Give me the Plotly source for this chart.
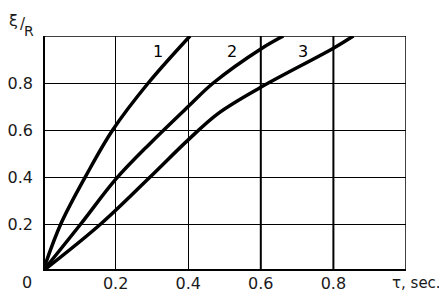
import plotly.graph_objects as go

# Data
tau1 = [0.0, 0.049, 0.12, 0.192, 0.29, 0.405]
xi1 = [0.0, 0.2, 0.41, 0.6, 0.8, 1.0]

tau2 = [0.0, 0.104, 0.2, 0.295, 0.4, 0.469, 0.6, 0.662]
xi2 = [0.0, 0.2, 0.39, 0.543, 0.70, 0.8, 0.945, 1.0]

tau3 = [0.0, 0.159, 0.295, 0.4, 0.483, 0.6, 0.8, 0.855]
xi3 = [0.0, 0.2, 0.4, 0.558, 0.671, 0.782, 0.948, 1.0]

x_ticks = [0.2, 0.4, 0.6, 0.8]
y_ticks = [0.2, 0.4, 0.6, 0.8]
curve_labels = ["1", "2", "3"]
label_x = [0.317, 0.52, 0.715]
label_y = [0.932, 0.932, 0.932]

FONT = "DejaVu Sans"
TXT = "#1a1a1a"
fig = go.Figure()
for t, v in [(tau1, xi1), (tau2, xi2), (tau3, xi3)]:
    fig.add_trace(go.Scatter(x=t, y=v, mode="lines",
                             line=dict(color="black", width=3.5, shape="spline", smoothing=1.0),
                             showlegend=False, hoverinfo="skip"))

for lx, ly, lt in zip(label_x, label_y, curve_labels):
    fig.add_annotation(x=lx, y=ly, text=lt, showarrow=False, xanchor="center", yanchor="middle",
                       font=dict(family=FONT, size=16, color="black"))

shapes = []
# thicker vertical grid lines at 0.6 and 0.8
for xv in x_ticks[2:]:
    shapes.append(dict(type="line", xref="x", yref="y", x0=xv, x1=xv, y0=0, y1=1,
                       line=dict(color="black", width=2), layer="below"))
# top and right border
shapes.append(dict(type="line", xref="x", yref="y", x0=0, x1=1, y0=1, y1=1,
                   line=dict(color="black", width=1.5), layer="below"))
shapes.append(dict(type="line", xref="x", yref="y", x0=1, x1=1, y0=0, y1=1,
                   line=dict(color="black", width=1.5), layer="below"))
# thick axes
shapes.append(dict(type="line", xref="x", yref="y", x0=-0.004, x1=1.01, y0=0, y1=0,
                   line=dict(color="black", width=4)))
shapes.append(dict(type="line", xref="x", yref="y", x0=0, x1=0, y0=0, y1=1,
                   line=dict(color="black", width=4)))
fig.update_layout(shapes=shapes)

def note(x, y, text, size, xanchor="center"):
    fig.add_annotation(xref="paper", yref="paper", x=x, y=y, text=text, showarrow=False,
                       xanchor=xanchor, yanchor="middle",
                       font=dict(family=FONT, size=size, color=TXT))

note(-0.043, -0.051, "0", 16)
note(0.956, -0.051, "τ, sec.", 15, xanchor="left")
# y-axis label xi / R
note(-0.082, 1.066, "ξ", 16)
note(-0.055, 1.053, "/", 15)
note(-0.0386, 1.021, "R", 14)

fig.update_xaxes(range=[0, 1.0], tickvals=x_ticks, ticktext=[str(v) for v in x_ticks],
                 showgrid=True, gridcolor="black", gridwidth=1, zeroline=False,
                 showline=False, ticks="", ticklabelstandoff=1, automargin=False,
                 tickfont=dict(family=FONT, size=16, color=TXT), fixedrange=True)
fig.update_yaxes(range=[0, 1.0], tickvals=y_ticks, ticktext=[str(v) for v in y_ticks],
                 showgrid=True, gridcolor="black", gridwidth=1, zeroline=False,
                 showline=False, ticks="", ticklabelstandoff=9, automargin=False,
                 tickfont=dict(family=FONT, size=16, color=TXT), fixedrange=True)

# page body adds 8px margin, so the figure is offset accordingly
fig.update_layout(width=439, height=299, margin=dict(l=35, r=41, t=28, b=36),
                  plot_bgcolor="white", paper_bgcolor="white")
fig.write_html("out.html")
